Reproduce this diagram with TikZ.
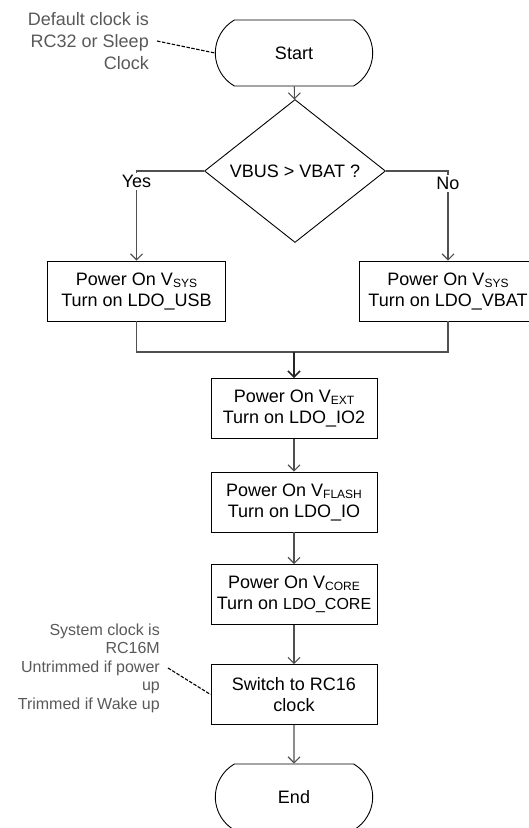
\documentclass[tikz,border=0pt]{standalone}
\usepackage{fontspec}
\setmainfont{Liberation Sans}
\usepackage{tikz}
\usetikzlibrary{shapes.geometric,shapes.misc,arrows.meta}
\definecolor{linegray}{RGB}{80,80,80}
\definecolor{notegray}{RGB}{89,89,89}
\newcommand{\vsub}[1]{\raisebox{-2pt}{\fontsize{12}{12}\selectfont #1}}
\tikzstyle{terminal} = [rounded rectangle, rounded rectangle arc length=120, draw=black, line width=0.9pt, minimum width=164pt, minimum height=66pt, font=\fontsize{18}{21}\selectfont]
\tikzstyle{decision} = [diamond, draw=black, line width=0.9pt, inner sep=0pt, minimum width=181pt, minimum height=107pt, font=\fontsize{18}{21}\selectfont]
\tikzstyle{process}  = [rectangle, draw=black, line width=0.9pt, minimum width=166pt, minimum height=60pt, align=center, font=\fontsize{18}{21}\selectfont]
\tikzstyle{wire}     = [draw=linegray, line width=1.1pt]
\tikzstyle{arrow}    = [wire, -{Straight Barb[length=6pt,width=12pt]}]
\tikzstyle{answer}   = [fill=white, inner sep=2pt, font=\fontsize{18}{21}\selectfont]
\tikzstyle{note}     = [text=notegray, align=right, anchor=east, inner sep=0pt, inner xsep=8pt]
\tikzstyle{link}     = [draw=black, line width=1.1pt, dash pattern=on 3.5pt off 1.5pt]

\begin{document}
\begin{tikzpicture}[x=1pt,y=-1pt]
		\useasboundingbox (0,0) rectangle (529,828);
		\clip (0,0) rectangle (529,828);

		% flow
		\node[terminal] (start) at (294,53) {Start};
		\node[decision] (check) at (295,171) {VBUS > VBAT ?};
		\node[process, minimum width=178pt] (usb) at (136.5,291) {Power On V\vsub{SYS}\\Turn on LDO\_USB};
		\node[process, minimum width=178pt] (vbat) at (448,291) {Power On V\vsub{SYS}\\Turn on LDO\_VBAT};
		\coordinate (merge) at (294,352);
		\node[process] (ext) at (294,408.5) {Power On V\vsub{EXT}\\Turn on LDO\_IO2};
		\node[process] (flash) at (294,502) {Power On V\vsub{FLASH}\\Turn on LDO\_IO};
		\node[process] (core) at (294,594.5) {Power On V\vsub{CORE}\\Turn on {\fontsize{16}{21}\selectfont LDO\_CORE}};
		\node[process] (switch) at (294,694.5) {Switch to RC16\\clock};
		\node[terminal] (end) at (294,797) {End};

		% notes
		\node[note, font=\fontsize{18}{22}\selectfont] (clknote) at (157,41) {Default clock is\\RC32 or Sleep\\Clock};
		\node[note, font=\fontsize{16}{18.5}\selectfont] (rcnote) at (168,668) {System clock is\\RC16M\\Untrimmed if power\\up\\Trimmed if Wake up};
		\draw[link] (clknote.east) -- (start.west);
		\draw[link] (rcnote.east) -- (switch.west);

		% connectors
		\draw[arrow] (start) -- (check);
		\draw[arrow] (check.west) -| node[answer, pos=0.56] {Yes} (usb.north);
		\draw[arrow] (check.east) -| node[answer, pos=0.57] {No} (vbat.north);
		\draw[wire] (usb.south) |- (merge) -| (vbat.south);
		\draw[arrow, draw=black!85, line width=1.5pt] (merge) -- (ext.north);
		\draw[arrow] (ext) -- (flash);
		\draw[arrow] (flash) -- (core);
		\draw[arrow] (core) -- (switch);
		\draw[arrow] (switch) -- (end);
	\end{tikzpicture}
\end{document}
